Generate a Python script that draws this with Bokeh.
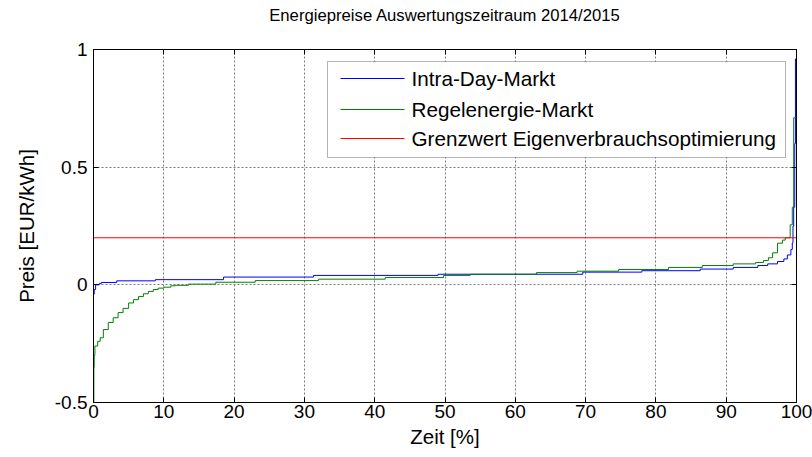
from bokeh.plotting import figure
from bokeh.models import FixedTicker, LinearAxis, Range1d, BoxAnnotation, Label
from bokeh.embed import file_html
from bokeh.resources import INLINE

# Sorted price duration curves (share of time in %, price in EUR/kWh)
intraday_t = [0, 0.1, 0.3, 0.8, 1.1, 3.3, 8.8, 18.5, 31.3, 49.0, 69.6, 78.0,
              86.3, 91.0, 94.5, 95.9, 97.3, 98.2, 98.7, 99.2, 99.4, 99.5,
              99.6, 99.75, 99.85, 100.0]
intraday_p = [-0.04, -0.02, 0.0, 0.005, 0.01, 0.017, 0.022, 0.033, 0.04, 0.045,
              0.054, 0.06, 0.067, 0.074, 0.082, 0.089, 0.099, 0.11, 0.127,
              0.15, 0.178, 0.25, 0.33, 0.6, 0.96, 0.96]

regel_t = [0, 0.05, 0.1, 0.2, 0.6, 0.95, 1.4, 2.1, 2.8, 3.5, 4.2, 5.0, 5.7,
           6.4, 7.1, 7.8, 8.5, 9.2, 10.0, 11.0, 11.7, 13.5, 17.4, 23.0, 32.0,
           41.5, 49.8, 53.6, 63.0, 68.8, 74.7, 81.8, 86.6, 91.0, 94.2, 95.3,
           96.0, 96.6, 97.3, 98.0, 98.4, 99.1, 99.4, 99.6, 100.0]
regel_p = [-0.5, -0.35, -0.3, -0.26, -0.24, -0.225, -0.19, -0.16, -0.14,
           -0.118, -0.1, -0.077, -0.063, -0.05, -0.038, -0.028, -0.02, -0.014,
           -0.01, -0.004, -0.002, 0.003, 0.011, 0.018, 0.024, 0.031, 0.04,
           0.045, 0.052, 0.058, 0.065, 0.074, 0.082, 0.089, 0.095, 0.103,
           0.115, 0.136, 0.177, 0.19, 0.2, 0.255, 0.33, 0.71, 0.71]

grenz_t = [0, 100]
grenz_p = [0.2, 0.2]

series_names = ["Intra-Day-Markt", "Regelenergie-Markt",
                "Grenzwert Eigenverbrauchsoptimierung"]
series_colors = ["#0000ff", "#008000", "#ff0000"]

title_text = "Energiepreise Auswertungszeitraum 2014/2015"

x_ticks = [0, 10, 20, 30, 40, 50, 60, 70, 80, 90, 100]
y_ticks = [-0.5, 0, 0.5, 1]
y_tick_labels = ["-0.5", "0", "0.5", "1"]

FONT = "Liberation Sans"
X0, X1, Y0, Y1 = 0, 100, -0.5, 1
FRAME_W, FRAME_H = 703, 353

p = figure(width=812, height=457, output_backend="svg", toolbar_location=None,
           x_range=Range1d(X0, X1), y_range=Range1d(Y0, Y1),
           min_border_left=93, min_border_right=16, min_border_top=49,
           min_border_bottom=55, title=title_text)
p.background_fill_color = "white"
p.border_fill_color = "white"
p.outline_line_color = "black"
p.outline_line_width = 1

p.title.align = "center"
p.title.vertical_align = "bottom"
p.title.standoff = 0
p.title.text_font = FONT
p.title.text_font_size = "16.7px"
p.title.text_font_style = "normal"
p.title.text_color = "black"

for ax in (p.xaxis[0], p.yaxis[0]):
    ax.major_label_text_font = FONT
    ax.major_label_text_font_size = "19px"
    ax.major_label_text_color = "black"
    ax.axis_label_text_font = FONT
    ax.axis_label_text_font_size = "20.5px"
    ax.axis_label_text_font_style = "normal"
    ax.axis_label_text_color = "black"
    ax.major_tick_in = 5
    ax.major_tick_out = 0
    ax.minor_tick_line_color = None
    ax.axis_line_color = "black"
    ax.major_tick_line_color = "black"

p.xaxis.ticker = FixedTicker(ticks=x_ticks)
p.yaxis.ticker = FixedTicker(ticks=y_ticks)
p.yaxis.major_label_overrides = {float(v): s for v, s in zip(y_ticks, y_tick_labels)}
p.xaxis.axis_label = "Zeit [%]"
p.yaxis.axis_label = "Preis [EUR/kWh]"
p.xaxis.major_label_standoff = 2
p.yaxis.major_label_standoff = 6
p.xaxis.axis_label_standoff = 4
p.yaxis.axis_label_standoff = 14

# box ticks on the top and right edges; the top axis's blank label band
# leaves room between the frame and the title
top = LinearAxis(ticker=FixedTicker(ticks=x_ticks), major_tick_in=5,
                 major_tick_out=0, minor_tick_line_color=None,
                 major_label_text_font_size="0px", major_label_text_alpha=0,
                 axis_line_color="black", major_label_standoff=0,
                 axis_label=" ", axis_label_text_font_size="1px",
                 axis_label_standoff=21)
right = LinearAxis(ticker=FixedTicker(ticks=y_ticks), major_tick_in=5,
                   major_tick_out=0, minor_tick_line_color=None,
                   major_label_text_font_size="0px", major_label_text_alpha=0,
                   axis_line_color="black", major_label_standoff=0)
p.add_layout(top, "above")
p.add_layout(right, "right")

for g in (p.xgrid[0], p.ygrid[0]):
    g.grid_line_color = "#7a7a7a"
    g.grid_line_dash = "2 2"
    g.grid_line_width = 1

p.step(intraday_t, intraday_p, mode="after", line_color=series_colors[0], line_width=1)
p.step(regel_t, regel_p, mode="after", line_color=series_colors[1], line_width=1)
p.line(grenz_t, grenz_p, line_color=series_colors[2], line_width=1)


# pixel offsets from the frame's top-left corner, as data coordinates
def fx(px):
    return X0 + px / FRAME_W * (X1 - X0)


def fy(py):
    return Y1 - py / FRAME_H * (Y1 - Y0)


# legend box
box = BoxAnnotation(left=fx(234), right=fx(692), top=fy(12), bottom=fy(108),
                    fill_color="white", fill_alpha=1, line_color="black",
                    line_width=1, level="underlay")
p.add_layout(box)

row_offsets = [29, 60, 89]
for name, color, off in zip(series_names, series_colors, row_offsets):
    p.line([fx(247), fx(311)], [fy(off), fy(off)], line_color=color, line_width=1)
    p.add_layout(Label(x=fx(318), y=fy(off), text=name, text_baseline="middle",
                       text_font=FONT, text_font_size="20.7px", text_color="black"))

open("out.html", "w").write(file_html(p, INLINE))
